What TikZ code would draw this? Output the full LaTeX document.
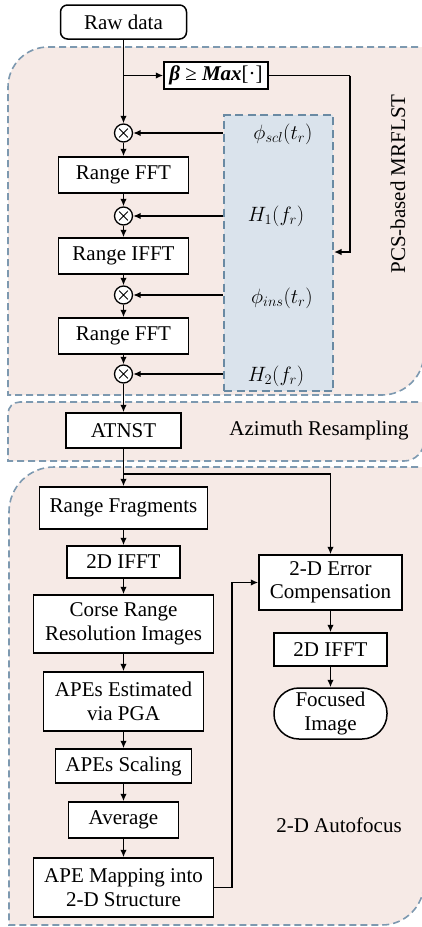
\documentclass[tikz,border=0pt]{standalone}
\usepackage[no-math]{fontspec}
\setmainfont{Liberation Serif}
\usetikzlibrary{arrows.meta,calc}

\definecolor{regionfill}{HTML}{F6EAE6}
\definecolor{regionline}{HTML}{7D99B0}
\definecolor{phifill}{HTML}{DAE3EC}
\definecolor{philine}{HTML}{6A8AA3}

\tikzset{
  region/.style={draw=regionline, fill=regionfill, line width=1.6pt, dash pattern=on 7pt off 4pt},
  procbox/.style={draw, fill=white, line width=1.5pt, inner sep=0pt, align=center, font=\fontsize{21}{23.5}\selectfont},
  mult/.style={draw, fill=white, circle, line width=1.3pt, minimum size=18pt, inner sep=0pt,
    path picture={\draw[line width=0.8pt]
      ($(path picture bounding box.center)+(-4.4pt,-4.4pt)$) -- ($(path picture bounding box.center)+(4.4pt,4.4pt)$)
      ($(path picture bounding box.center)+(-4.4pt,4.4pt)$) -- ($(path picture bounding box.center)+(4.4pt,-4.4pt)$);}},
  arr/.style={line width=1.5pt, -{Latex[length=7.5pt,width=6.5pt]}},
  wire/.style={line width=1.5pt},
  lbl/.style={font=\fontsize{21}{23.5}\selectfont},
}

\begin{document}
\begin{tikzpicture}[x=1pt, y=-1pt]
\useasboundingbox (0,0) rectangle (422,927);

% background regions
\path[region] (440,47) -- (48,47) .. controls (26,47) and (8,65) .. (8,87)
  -- (8,395) -- (382,395) .. controls (405,395) and (424,376) .. (424,353) -- (424,40);
\path[region] (440,402) -- (20,402) .. controls (13,402) and (8,407) .. (8,414)
  -- (8,461) -- (404,461) .. controls (415,461) and (424,452) .. (424,441) -- (424,395);
\path[region] (440,467) -- (54,467) .. controls (29,467) and (9,487) .. (9,512)
  -- (9,925) -- (382,925) .. controls (405,925) and (424,906) .. (424,883) -- (424,460);

% phase-function panel
\node[draw=philine, fill=phifill, line width=2pt, dash pattern=on 8pt off 4.5pt,
  minimum width=109pt, minimum height=276pt, inner sep=0pt] (phibox) at (278.5,253) {};

% region titles
\node[lbl, rotate=90] (t1) at (398,184) {PCS-based MRFLST};
\node[lbl] (t2) at (319,430) {Azimuth Resampling};
\node[lbl] (t3) at (339,825) {2-D Autofocus};

% phase labels
\node[lbl] (p1) at (283,134) {$\phi_{scl}(t_r)$};
\node[lbl] (p2) at (276,216) {$H_1(f_r)$};
\node[lbl] (p3) at (282,298) {$\phi_{ins}(t_r)$};
\node[lbl] (p4) at (276,376) {$H_2(f_r)$};

% main column
\node[procbox, rounded corners=7pt, minimum width=126pt, minimum height=34pt] (raw) at (123.5,22) {Raw data};
\node[procbox, minimum width=104pt, minimum height=27pt] (beta) at (216,75.5) {\textbf{\textit{β}} ≥ \textbf{\textit{Max}}[·]};
\node[mult] (c1) at (123.5,133) {};
\node[procbox, minimum width=130pt, minimum height=36pt] (fft1) at (123.5,175) {Range FFT};
\node[mult] (c2) at (123.5,216) {};
\node[procbox, minimum width=130pt, minimum height=36pt] (ifft) at (123.5,256) {Range IFFT};
\node[mult] (c3) at (123.5,295) {};
\node[procbox, minimum width=130pt, minimum height=36pt] (fft2) at (123.5,336) {Range FFT};
\node[mult] (c4) at (123.5,374) {};
\node[procbox, minimum width=115pt, minimum height=35pt] (atnst) at (123.5,430.5) {ATNST};

\node[procbox, minimum width=168pt, minimum height=42pt] (frag) at (123.5,508) {Range Fragments};
\node[procbox, minimum width=113pt, minimum height=32pt] (ifa) at (123.5,562) {2D IFFT};
\node[procbox, minimum width=180pt, minimum height=58pt] (corse) at (123.5,624) {Corse Range\\Resolution Images};
\node[procbox, minimum width=160pt, minimum height=59pt] (apes) at (123.5,701.5) {APEs Estimated\\via PGA};
\node[procbox, minimum width=136pt, minimum height=34pt] (scal) at (123.5,766) {APEs Scaling};
\node[procbox, minimum width=110pt, minimum height=36pt] (avg) at (123.5,820) {Average};
\node[procbox, minimum width=180pt, minimum height=59pt] (map) at (123.5,887.5) {APE Mapping into\\2-D Structure};

\node[procbox, minimum width=143pt, minimum height=55pt] (err) at (330.5,582.5) {2-D Error\\Compensation};
\node[procbox, minimum width=113pt, minimum height=33pt] (ifb) at (330.5,649.5) {2D IFFT};
\node[procbox, rounded corners=25pt, minimum width=113pt, minimum height=51pt] (foc) at (330.5,713.5) {Focused\\Image};

% junctions and bends
\coordinate (j1) at (123.5,75.5);
\coordinate (bend1) at (350,75.5);
\coordinate (j2) at (123.5,474);
\coordinate (bend2) at (232,887.5);

% connectors of the range chain
\draw[arr] (raw.south) -- (c1.north);
\draw[arr] (j1) -- (beta.west);
\draw[wire] (beta.east) -- (bend1);
\draw[arr] (bend1) -- (bend1 |- 0,252) -- (phibox.east |- 0,252);
\draw[arr] (c1.south) -- (fft1.north);
\draw[arr] (fft1.south) -- (c2.north);
\draw[arr] (c2.south) -- (ifft.north);
\draw[arr] (ifft.south) -- (c3.north);
\draw[arr] (c3.south) -- (fft2.north);
\draw[arr] (fft2.south) -- (c4.north);
\draw[arr] (c4.south) -- (atnst.north);
\draw[arr] (phibox.west |- c1) -- (c1.east);
\draw[arr] (phibox.west |- c2) -- (c2.east);
\draw[arr] (phibox.west |- c3) -- (c3.east);
\draw[arr] (phibox.west |- c4) -- (c4.east);

% connectors of the autofocus chain
\draw[arr] (atnst.south) -- (frag.north);
\draw[arr] (j2) -- (err.north |- j2) -- (err.north);
\draw[arr] (frag.south) -- (ifa.north);
\draw[arr] (ifa.south) -- (corse.north);
\draw[arr] (corse.south) -- (apes.north);
\draw[arr] (apes.south) -- (scal.north);
\draw[arr] (scal.south) -- (avg.north);
\draw[arr] (avg.south) -- (map.north);
\draw[arr] (map.east) -- (bend2) |- (err.west);
\draw[arr] (err.south) -- (ifb.north);
\draw[arr] (ifb.south) -- (foc.north);
\end{tikzpicture}
\end{document}
